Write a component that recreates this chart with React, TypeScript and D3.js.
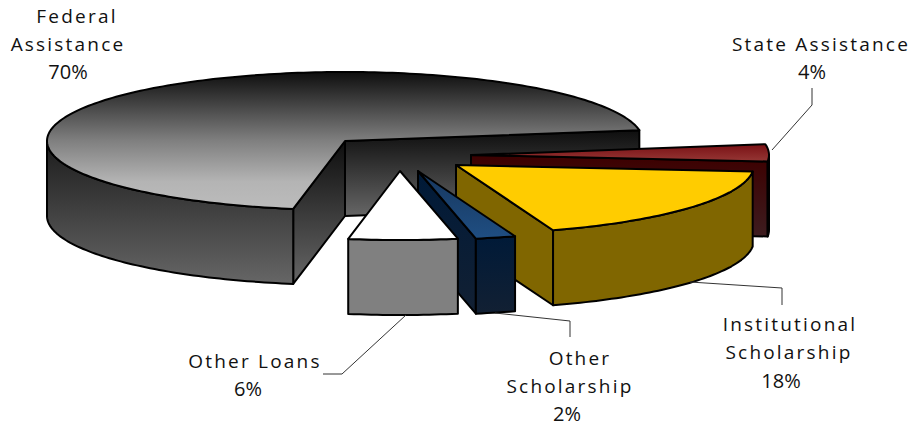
import React from "react";
import * as d3 from "d3";

const categories = ["State Assistance", "Institutional Scholarship", "Other Scholarship", "Other Loans", "Federal Assistance"];
const shares = [4, 18.22, 2.17, 5.89, 69.72];
const shownPercent = [4, 18, 2, 6, 70];

const W = 914, H = 426;
const RX = 298, RY = 69, DEPTH = 75;
const START = -9 * Math.PI / 180;

// Where each slice's apex lands after the chart's "explode" effect.
const apexes: [number, number][] = [[471, 155], [456, 165], [418, 171], [400, 171], [345, 141]];

const sx = d3.scaleLinear().domain([-1, 1]).range([-RX, RX]);
const sy = d3.scaleLinear().domain([-1, 1]).range([-RY, RY]);

const arcs = d3.pie<number>().sort(null).startAngle(START).endAngle(START + 2 * Math.PI)(shares);
const line = d3.line<[number, number]>();

const rim = (a0: number, a1: number, ox: number, oy: number): [number, number][] => {
  const n = Math.max(2, Math.ceil(Math.abs(a1 - a0) / 0.02));
  return d3.range(n + 1).map(i => {
    const a = a0 + (a1 - a0) * i / n;
    return [ox + sx(Math.cos(a)), oy + sy(Math.sin(a))] as [number, number];
  });
};

const topFill = ["url(#stTop)", "#ffcc00", "url(#osTop)", "#ffffff", "url(#fedTop)"];
const sideFill = ["url(#stSide)", "#806600", "url(#osSide)", "url(#olSide)", "url(#fedSide)"];
const faceFill = ["url(#stFace)", "#806600", "url(#osFace)", "#808080", "url(#fedFace)"];

function Slice({ i }: { i: number }) {
  const { startAngle: a0, endAngle: a1 } = arcs[i];
  const [ox, oy] = apexes[i];
  const stroke = { stroke: "#000", strokeWidth: 2, strokeLinejoin: "round" as const };
  const radial = (a: number, fill: string, key: string) => {
    const p = rim(a, a, ox, oy)[0];
    const pts: [number, number][] = [[ox, oy], p, [p[0], p[1] + DEPTH], [ox, oy + DEPTH]];
    return <path key={key} d={line(pts)! + "Z"} fill={fill} {...stroke} />;
  };
  const faces: React.ReactNode[] = [];
  if (Math.cos(a0) < 0) faces.push(radial(a0, faceFill[i], "s"));
  if (Math.cos(a1) > 0) faces.push(radial(a1, faceFill[i], "e"));
  // Outer wall: the part of the rim on the viewer's side (angles 0..PI, and 2PI..3PI).
  const walls: React.ReactNode[] = [];
  [[0, Math.PI], [2 * Math.PI, 3 * Math.PI]].forEach(([lo, hi], k) => {
    const b0 = Math.max(a0, lo), b1 = Math.min(a1, hi);
    if (b1 > b0) {
      const upper = rim(b0, b1, ox, oy);
      const lower = upper.map(([x, y]) => [x, y + DEPTH] as [number, number]).reverse();
      walls.push(<path key={k} d={line([...upper, ...lower])! + "Z"} fill={sideFill[i]} {...stroke} />);
    }
  });
  const topPts: [number, number][] = [[ox, oy], ...rim(a0, a1, ox, oy)];
  return (
    <g>
      {faces}
      {walls}
      <path d={line(topPts)! + "Z"} fill={topFill[i]} {...stroke} />
    </g>
  );
}

const Grad = ({ id, stops }: { id: string; stops: [number, string][] }) => (
  <linearGradient id={id} x1={0} y1={0} x2={0} y2={1}>
    {stops.map(([o, c], i) => <stop key={i} offset={o} stopColor={c} />)}
  </linearGradient>
);

const leaders: [number, number][][] = [
  [[772, 150], [812, 105], [812, 88]],
  [[690, 282], [782, 288], [782, 305]],
  [[495, 313], [570, 321], [570, 337]],
  [[406, 315], [342, 374], [323, 374]],
];

const labelLayout = [
  { y: [51, 79], lines: [["State Assistance", 821]], px: 812 },
  { y: [331, 359, 388], lines: [["Institutional", 790], ["Scholarship", 789]], px: 781 },
  { y: [365, 393, 421], lines: [["Other", 580], ["Scholarship", 570]], px: 567 },
  { y: [368, 396], lines: [["Other Loans", 255]], px: 248 },
  { y: [23, 51, 79], lines: [["Federal", 77], ["Assistance", 68]], px: 68 },
];

export default function App() {
  return (
    <svg width={W} height={H} viewBox={`0 0 ${W} ${H}`} style={{ position: "absolute", left: 0, top: 0, background: "#fff" }}>
      <defs>
        <Grad id="fedTop" stops={[[0, "#0e0e0e"], [0.5, "#7f7f7f"], [0.8, "#b4b4b4"], [1, "#bcbcbc"]]} />
        <Grad id="fedSide" stops={[[0, "#1c1c1c"], [1, "#666666"]]} />
        <Grad id="fedFace" stops={[[0, "#0e0e0e"], [1, "#666666"]]} />
        <Grad id="stTop" stops={[[0, "#7a1014"], [1, "#953735"]]} />
        <Grad id="stSide" stops={[[0, "#3a0000"], [1, "#3d1c1f"]]} />
        <Grad id="stFace" stops={[[0, "#3d0000"], [1, "#3d1c1f"]]} />
        <Grad id="osTop" stops={[[0, "#17375e"], [1, "#1f4e82"]]} />
        <Grad id="osSide" stops={[[0, "#001a38"], [1, "#122033"]]} />
        <Grad id="osFace" stops={[[0, "#001a38"], [1, "#122033"]]} />
        <Grad id="olSide" stops={[[0, "#808080"], [1, "#808080"]]} />
      </defs>
      {[4, 0, 1, 2, 3].map(i => <Slice key={i} i={i} />)}
      {leaders.map((pts, i) => (
        <path key={i} d={line(pts)!} fill="none" stroke="#333" strokeWidth={1} />
      ))}
      <g fontFamily="'Open Sans', sans-serif" fontSize={19} fill="#111" textAnchor="middle" letterSpacing={2.2}>
        {labelLayout.map((l, i) => (
          <g key={i}>
            {l.lines.map(([t, x], j) => <text key={j} x={x as number} y={l.y[j]}>{t}</text>)}
            <text x={l.px} y={l.y[l.lines.length]} fontSize={20} letterSpacing={0}>{shownPercent[i]}%</text>
          </g>
        ))}
      </g>
      <title>{categories.join(", ")}</title>
    </svg>
  );
}
